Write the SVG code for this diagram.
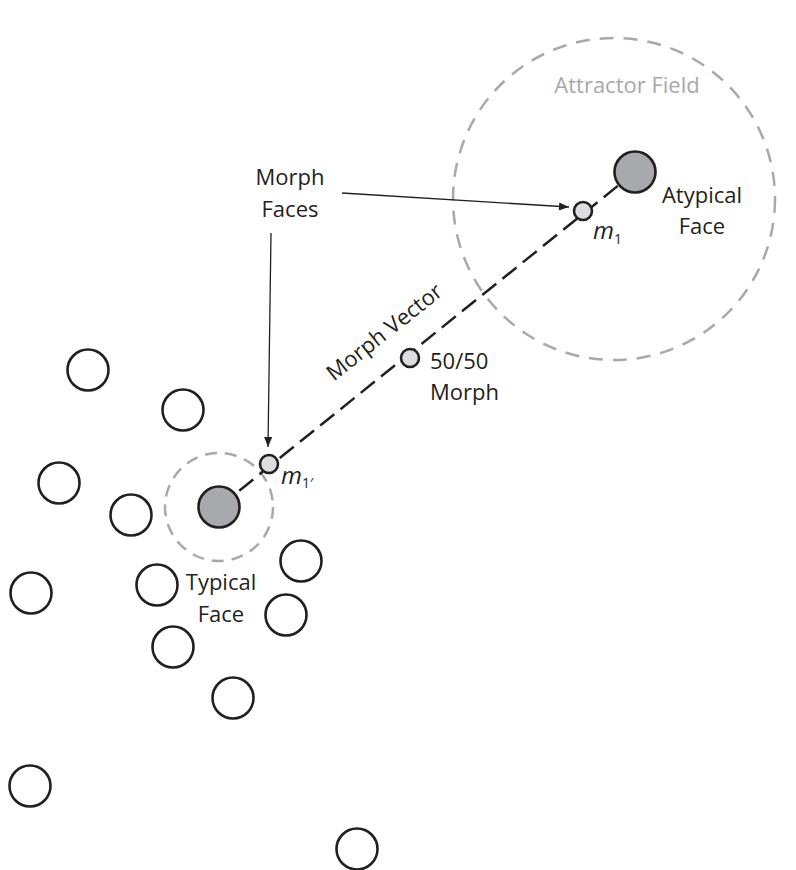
<svg xmlns="http://www.w3.org/2000/svg" width="796" height="870" viewBox="0 0 796 870">
<style>
text{font-family:"Open Sans","Liberation Sans",sans-serif;font-size:22px;fill:#231f20}
.gray{fill:#a7a9ac}
.face{fill:#fff;stroke:#231f20;stroke-width:2.6}
.center{fill:#a7a9ac;stroke:#231f20;stroke-width:2.6}
.morph{fill:#dcddde;stroke:#231f20;stroke-width:2.6}
.field{fill:none;stroke:#a7a9ac;stroke-width:2.5;stroke-dasharray:14 10}
.vector{fill:none;stroke:#231f20;stroke-width:2.5;stroke-dasharray:18 8}
.arrow{fill:none;stroke:#231f20;stroke-width:1.3;marker-end:url(#ah)}
.it{font-style:italic;font-size:24px}
.sub{font-size:14px}
</style>
<defs>
<marker id="ah" markerUnits="userSpaceOnUse" viewBox="0 0 10 8" refX="10" refY="4" markerWidth="11" markerHeight="8" orient="auto">
<path d="M0,0 L10,4 L0,8 z" fill="#231f20"/>
</marker>
</defs>
<rect width="796" height="870" fill="#fff"/>

<g id="attractor-field">
<circle class="field" cx="614" cy="199" r="161"/>
<text class="gray" x="627" y="93" text-anchor="middle">Attractor Field</text>
</g>
<g id="typical-field">
<circle class="field" cx="219" cy="507" r="54" style="stroke-dasharray:12 8"/>
</g>

<g id="connectors">
<line class="vector" x1="219" y1="507" x2="635" y2="172"/>
<line class="arrow" x1="342" y1="193" x2="569" y2="207"/>
<line class="arrow" x1="271" y1="233" x2="268" y2="447"/>
<text transform="translate(389,338) rotate(-38.5)" text-anchor="middle">Morph Vector</text>
</g>

<g id="faces">
<g id="f1"><circle class="face" cx="88" cy="370" r="20.5"/></g>
<g id="f2"><circle class="face" cx="183" cy="410" r="20.5"/></g>
<g id="f3"><circle class="face" cx="59" cy="483" r="20.5"/></g>
<g id="f4"><circle class="face" cx="131" cy="515" r="20.5"/></g>
<g id="f5"><circle class="face" cx="31" cy="593" r="20.5"/></g>
<g id="f6"><circle class="face" cx="157" cy="585" r="20.5"/></g>
<g id="f7"><circle class="face" cx="301" cy="561" r="20.5"/></g>
<g id="f8"><circle class="face" cx="286" cy="615" r="20.5"/></g>
<g id="f9"><circle class="face" cx="173" cy="647" r="20.5"/></g>
<g id="f10"><circle class="face" cx="233" cy="698" r="20.5"/></g>
<g id="f11"><circle class="face" cx="30" cy="786" r="20.5"/></g>
<g id="f12"><circle class="face" cx="357" cy="849" r="20.5"/></g>
</g>

<g id="typical-face">
<circle class="center" cx="219" cy="507" r="20.5"/>
<text x="221" y="590" text-anchor="middle">Typical</text>
<text x="221" y="622" text-anchor="middle">Face</text>
</g>

<g id="atypical-face">
<circle class="center" cx="635" cy="172" r="20.5"/>
<text x="702" y="203" text-anchor="middle">Atypical</text>
<text x="702" y="234" text-anchor="middle">Face</text>
</g>

<g id="m1prime">
<circle class="morph" cx="269" cy="464" r="9"/>
<text x="281" y="484"><tspan class="it">m</tspan><tspan class="sub" dy="4">1′</tspan></text>
</g>

<g id="m5050">
<circle class="morph" cx="410" cy="358" r="9"/>
<text x="430" y="369">50/50</text>
<text x="430" y="400">Morph</text>
</g>

<g id="m1">
<circle class="morph" cx="583" cy="211" r="9"/>
<text x="593" y="239"><tspan class="it">m</tspan><tspan class="sub" dy="5">1</tspan></text>
</g>

<g id="morph-faces-label">
<text x="290" y="185" text-anchor="middle">Morph</text>
<text x="290" y="217" text-anchor="middle">Faces</text>
</g>
</svg>
